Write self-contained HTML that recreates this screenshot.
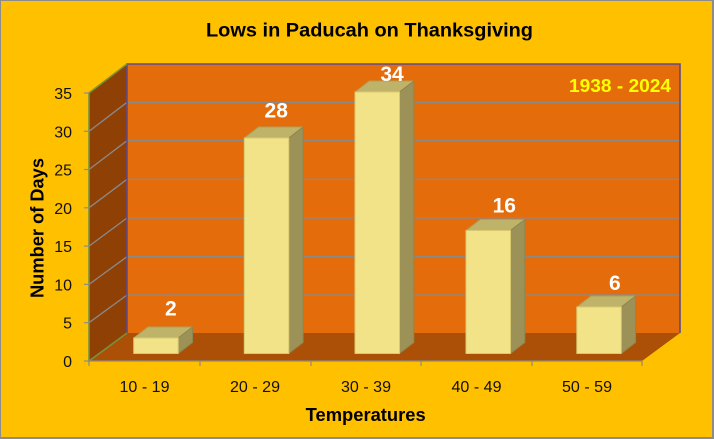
<!DOCTYPE html>
<html><head><meta charset="utf-8"><style>
html,body{margin:0;padding:0;background:#8c8c8c;}
svg{display:block;}
text{font-family:"Liberation Sans",Arial,sans-serif;}
</style></head><body>
<svg width="714" height="439" viewBox="0 0 714 439" xmlns="http://www.w3.org/2000/svg">
<rect x="0" y="0" width="714" height="439" fill="#8c8c8c"/>
<rect x="1" y="1" width="711" height="436" fill="#FFC000"/>
<!-- back wall -->
<rect x="127" y="64" width="553" height="269" fill="#E46C0A"/>
<!-- side wall -->
<polygon points="89,93 127,64 127,333 89,361" fill="#8E4005"/>
<!-- floor -->
<polygon points="89,361 127,333 680,333 642,361" fill="#AB5006"/>
<!-- gridlines back -->
<g stroke="#8a8a8a" stroke-width="1.3">
<line x1="127" y1="295" x2="680" y2="295"/>
<line x1="127" y1="256.7" x2="680" y2="256.7"/>
<line x1="127" y1="218" x2="680" y2="218"/>
<line x1="127" y1="179.3" x2="680" y2="179.3"/>
<line x1="127" y1="140.7" x2="680" y2="140.7"/>
<line x1="127" y1="102.3" x2="680" y2="102.3"/>
<line x1="89" y1="322.7" x2="127" y2="295"/>
<line x1="89" y1="284.4" x2="127" y2="256.7"/>
<line x1="89" y1="246.1" x2="127" y2="218"/>
<line x1="89" y1="207.8" x2="127" y2="179.3"/>
<line x1="89" y1="169.5" x2="127" y2="140.7"/>
<line x1="89" y1="131.3" x2="127" y2="102.3"/>
</g>
<!-- back wall border -->
<polyline points="127,333 127,64 680,64 680,333" fill="none" stroke="#5F4B8B" stroke-width="1.6"/>
<!-- side wall outline -->
<polyline points="127,64 89,93 89,361 127,333" fill="none" stroke="#77933C" stroke-width="1.6"/>
<!-- front floor line & ticks -->
<g stroke="#8c8c7a" stroke-width="1.2">
<line x1="89" y1="361" x2="642" y2="361"/>
<line x1="89" y1="361" x2="89" y2="366"/>
<line x1="200" y1="361" x2="200" y2="366"/>
<line x1="311" y1="361" x2="311" y2="366"/>
<line x1="421" y1="361" x2="421" y2="366"/>
<line x1="532" y1="361" x2="532" y2="366"/>
<line x1="642" y1="361" x2="642" y2="366"/>
</g>
<g stroke="#8c8c8c" stroke-width="1.2">
<line x1="84" y1="93" x2="89" y2="93"/>
<line x1="84" y1="131.3" x2="89" y2="131.3"/>
<line x1="84" y1="169.5" x2="89" y2="169.5"/>
<line x1="84" y1="207.8" x2="89" y2="207.8"/>
<line x1="84" y1="246.1" x2="89" y2="246.1"/>
<line x1="84" y1="284.4" x2="89" y2="284.4"/>
<line x1="84" y1="322.7" x2="89" y2="322.7"/>
<line x1="84" y1="361" x2="89" y2="361"/>
</g>
<!-- bars -->
<g stroke-width="1" stroke-linejoin="round">
<!-- bar 1 : 2 -->
<polygon points="133.7,338 148,327 192.5,327 178.2,338" fill="#BFB36A" stroke="#ADA15C"/>
<polygon points="178.2,338 192.5,327 192.5,342.5 178.2,353.5" fill="#9C9257" stroke="#8E8550"/>
<rect x="133.7" y="338" width="44.5" height="15.5" fill="#F2E388" stroke="#D9C870"/>
<!-- bar 2 : 28 -->
<polygon points="244.3,138 258.6,127 303.1,127 288.8,138" fill="#BFB36A" stroke="#ADA15C"/>
<polygon points="288.8,138 303.1,127 303.1,342.5 288.8,353.5" fill="#9C9257" stroke="#8E8550"/>
<rect x="244.3" y="138" width="44.5" height="215.5" fill="#F2E388" stroke="#D9C870"/>
<!-- bar 3 : 34 -->
<polygon points="355,92 369.3,81 413.8,81 399.5,92" fill="#BFB36A" stroke="#ADA15C"/>
<polygon points="399.5,92 413.8,81 413.8,342.5 399.5,353.5" fill="#9C9257" stroke="#8E8550"/>
<rect x="355" y="92" width="44.5" height="261.5" fill="#F2E388" stroke="#D9C870"/>
<!-- bar 4 : 16 -->
<polygon points="466,230.5 480.3,219.5 524.8,219.5 510.5,230.5" fill="#BFB36A" stroke="#ADA15C"/>
<polygon points="510.5,230.5 524.8,219.5 524.8,342.5 510.5,353.5" fill="#9C9257" stroke="#8E8550"/>
<rect x="466" y="230.5" width="44.5" height="123" fill="#F2E388" stroke="#D9C870"/>
<!-- bar 5 : 6 -->
<polygon points="576.8,307 591.1,296 635.6,296 621.3,307" fill="#BFB36A" stroke="#ADA15C"/>
<polygon points="621.3,307 635.6,296 635.6,342.5 621.3,353.5" fill="#9C9257" stroke="#8E8550"/>
<rect x="576.8" y="307" width="44.5" height="46.5" fill="#F2E388" stroke="#D9C870"/>
</g>
<!-- data labels -->
<g fill="#ffffff" font-weight="bold" font-size="21" text-anchor="middle">
<text x="170.8" y="315.7">2</text>
<text x="276.2" y="117.3">28</text>
<text x="392" y="81">34</text>
<text x="504.3" y="212.7">16</text>
<text x="614.8" y="290">6</text>
</g>
<text x="671" y="92" fill="#FFFF00" font-weight="bold" font-size="18" text-anchor="end" textLength="102" lengthAdjust="spacingAndGlyphs">1938 - 2024</text>
<!-- y tick labels -->
<g fill="#111" font-size="16" text-anchor="end">
<text x="72" y="99">35</text>
<text x="72" y="137.3">30</text>
<text x="72" y="175.5">25</text>
<text x="72" y="213.8">20</text>
<text x="72" y="252.1">15</text>
<text x="72" y="290.4">10</text>
<text x="72" y="328.7">5</text>
<text x="72" y="367">0</text>
</g>
<!-- x labels -->
<g fill="#111" font-size="16" text-anchor="middle">
<text x="144.5" y="392" textLength="50" lengthAdjust="spacingAndGlyphs">10 - 19</text>
<text x="255" y="392" textLength="50" lengthAdjust="spacingAndGlyphs">20 - 29</text>
<text x="366" y="392" textLength="50" lengthAdjust="spacingAndGlyphs">30 - 39</text>
<text x="476.5" y="392" textLength="50" lengthAdjust="spacingAndGlyphs">40 - 49</text>
<text x="587" y="392" textLength="50" lengthAdjust="spacingAndGlyphs">50 - 59</text>
</g>
<!-- titles -->
<text x="369.5" y="36.5" fill="#000" font-weight="bold" font-size="19.5" text-anchor="middle" textLength="327" lengthAdjust="spacingAndGlyphs">Lows in Paducah on Thanksgiving</text>
<text x="365.7" y="421" fill="#000" font-weight="bold" font-size="18" text-anchor="middle" textLength="120" lengthAdjust="spacingAndGlyphs">Temperatures</text>
<text transform="translate(43.5,228) rotate(-90)" x="0" y="0" fill="#000" font-weight="bold" font-size="18" text-anchor="middle" textLength="140" lengthAdjust="spacingAndGlyphs">Number of Days</text>
</svg>
</body></html>
